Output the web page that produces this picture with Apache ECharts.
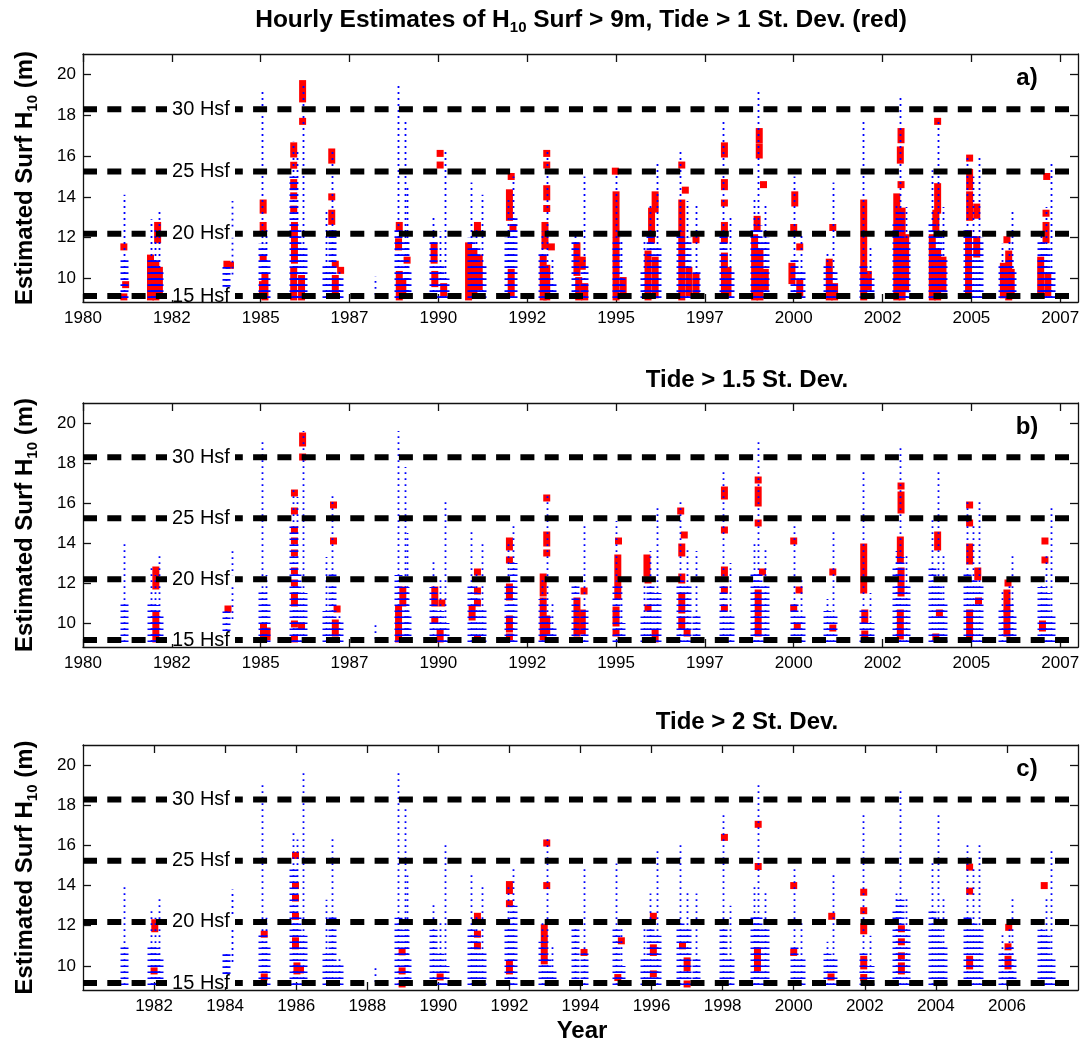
<!DOCTYPE html>
<html><head><meta charset="utf-8">
<script src="https://cdn.jsdelivr.net/npm/echarts@6/dist/echarts.min.js"></script>
<style>html,body{margin:0;padding:0;background:#fff}#c{width:1085px;height:1040px}</style>
</head><body><div id="c"></div>
<script>
// ---------- data ----------
const yearMin = 1980, yearMax = 2008;
const xTicksAB = [1980, 1982.5, 1985, 1987.5, 1990, 1992.5, 1995, 1997.5, 2000, 2002.5, 2005, 2007.5];
const xTicksC = [1982, 1984, 1986, 1988, 1990, 1992, 1994, 1996, 1998, 2000, 2002, 2004, 2006];
const yTicks = [10, 12, 14, 16, 18, 20];
const hsfLevels = [9.144, 12.192, 15.24, 18.288];
const hsfNames = ['15 Hsf', '20 Hsf', '25 Hsf', '30 Hsf'];
const panelLetters = ['a)', 'b)', 'c)'];
const panelTitles = ['', 'Tide > 1.5 St. Dev.', 'Tide > 2 St. Dev.'];

// blue hourly estimates: [year, lowest, highest, top of dense part]
const blueCols = [
  [1981.14, 9.05, 14.1, 11.0],
  [1981.90, 9.05, 12.9, 11.0], [1982.02, 9.05, 12.4, 10.9], [1982.13, 9.05, 13.4, 10.4],
  [1984.02, 9.6, 10.6, 10.6], [1984.20, 10.2, 13.8, 10.2],
  [1985.05, 9.05, 19.2, 11.7], [1985.15, 9.05, 12.4, 11.0],
  [1985.92, 9.05, 16.7, 15.0], [1986.02, 9.05, 16.3, 12.5], [1986.18, 9.05, 19.6, 11.5],
  [1986.85, 9.05, 13.3, 10.6], [1987.0, 9.05, 16.4, 12.5], [1987.2, 9.05, 10.5, 10.2],
  [1988.23, 9.2, 10.1, 9.2],
  [1988.87, 9.05, 19.6, 12.4], [1989.05, 9.05, 17.8, 11.8], [1989.12, 9.05, 14.5, 10.5],
  [1989.85, 9.05, 13.1, 11.8], [1990.05, 9.05, 12.3, 10.6], [1990.2, 9.05, 16.2, 10.0],
  [1990.93, 9.05, 14.7, 12.0], [1991.05, 9.05, 12.5, 11.5], [1991.22, 9.05, 14.1, 10.7],
  [1991.95, 9.05, 14.0, 12.0], [1992.1, 9.05, 15.0, 13.0],
  [1992.92, 9.05, 12.3, 11.2], [1993.05, 9.05, 16.4, 10.5], [1993.2, 9.05, 11.0, 9.9],
  [1993.85, 9.05, 12.3, 11.9], [1994.1, 9.05, 15.0, 10.8],
  [1995.0, 9.05, 15.1, 12.0], [1995.15, 9.05, 11.9, 10.0],
  [1995.8, 9.05, 11.9, 10.5], [1995.95, 9.05, 13.6, 12.3], [1996.15, 9.05, 15.8, 11.5],
  [1996.8, 9.05, 16.2, 12.3], [1997.0, 9.05, 13.8, 12.0], [1997.25, 9.05, 13.6, 10.5],
  [1998.0, 9.05, 17.7, 12.3], [1998.2, 9.05, 13.0, 10.5],
  [1998.87, 9.05, 14.0, 12.5], [1999.0, 9.05, 19.2, 12.6], [1999.2, 9.05, 13.7, 12.0],
  [2000.0, 9.05, 15.0, 11.0], [2000.2, 9.05, 12.2, 10.5],
  [2000.95, 9.05, 11.2, 10.6], [2001.1, 9.05, 14.7, 10.5],
  [2001.95, 9.05, 17.7, 10.8], [2002.15, 9.05, 11.5, 10.0],
  [2002.88, 9.05, 13.6, 12.8], [2003.0, 9.05, 18.9, 13.3], [2003.15, 9.05, 13.5, 12.0],
  [2003.9, 9.05, 15.3, 12.8], [2004.05, 9.05, 17.7, 12.3], [2004.2, 9.05, 13.5, 11.0],
  [2004.88, 9.05, 16.1, 12.5], [2005.05, 9.05, 15.0, 12.2], [2005.22, 9.05, 16.1, 12.0],
  [2005.87, 9.05, 11.7, 10.8], [2006.05, 9.05, 12.0, 11.0], [2006.15, 9.05, 13.4, 10.5],
  [2006.95, 9.05, 12.3, 11.8], [2007.1, 9.05, 13.5, 11.5], [2007.25, 9.05, 15.8, 10.5]
];

// red estimates (tide above threshold): [year, low, high]
const redA = [
  [1981.15,11.55,11.55],[1981.2,9.7,9.7],[1981.15,9.1,9.1],
  [1982.1,11.9,12.6],[1981.9,9.1,11.0],[1982.05,9.1,10.7],[1982.15,9.4,10.4],
  [1984.05,10.7,10.7],[1984.15,10.65,10.65],
  [1985.07,13.35,13.7],[1985.07,12.3,12.6],[1985.07,11.0,11.0],[1985.12,9.1,10.1],[1985.05,9.2,9.7],
  [1986.18,18.8,19.55],[1986.18,17.7,17.7],[1985.93,16.1,16.5],[1985.93,15.55,15.55],[1985.93,14.5,14.7],[1985.93,14.05,14.05],[1985.93,13.4,13.4],[1985.95,10.9,12.6],[1985.93,9.1,10.4],[1986.15,9.1,10.0],
  [1987.0,15.8,16.2],[1987.0,14.0,14.0],[1987.0,12.8,13.2],[1987.25,10.4,10.4],[1987.1,10.7,10.7],[1987.1,9.3,10.0],
  [1988.9,12.45,12.6],[1988.88,11.55,11.8],[1989.12,10.9,10.9],[1988.9,9.1,10.2],[1989.0,9.3,9.8],
  [1990.05,16.13,16.13],[1990.05,15.56,15.56],[1989.88,10.9,11.6],[1989.9,9.75,10.2],[1990.15,9.3,9.6],
  [1991.1,12.4,12.6],[1990.85,9.1,11.6],[1991.0,9.3,11.3],[1991.15,9.6,11.0],
  [1992.05,15.0,15.0],[1992.0,13.0,14.2],[1992.1,12.5,12.5],[1992.05,9.3,10.3],
  [1993.05,16.13,16.13],[1993.05,15.56,15.56],[1993.05,14.0,14.4],[1993.05,13.43,13.43],[1993.0,11.6,12.6],[1992.95,9.1,11.0],[1993.05,9.1,10.5],[1993.18,11.55,11.55],
  [1993.9,10.3,11.6],[1994.05,10.6,10.9],[1993.95,9.1,9.9],[1994.12,9.1,9.6],
  [1994.98,15.26,15.26],[1995.0,9.1,14.1],[1995.2,9.3,9.9],
  [1996.1,13.4,14.1],[1996.0,11.9,13.3],[1995.9,9.1,11.2],[1996.1,9.2,10.9],
  [1996.85,15.56,15.56],[1996.95,14.33,14.33],[1996.85,9.1,13.7],[1997.05,9.3,10.4],[1997.25,9.3,10.1],[1997.25,11.9,11.9],
  [1998.05,16.1,16.5],[1998.05,14.5,14.7],[1998.05,13.7,13.7],[1998.05,11.9,12.6],[1998.05,9.3,11.1],[1998.15,9.3,10.4],
  [1999.03,16.8,17.2],[1999.03,16.05,16.45],[1999.15,14.6,14.6],[1998.97,12.5,12.9],[1998.9,9.1,12.0],[1999.05,9.1,11.3],[1999.2,9.6,10.3],
  [2000.03,13.7,14.1],[2000.0,12.5,12.5],[2000.17,11.55,11.55],[1999.95,9.9,10.6],[2000.17,9.3,9.8],
  [2001.1,12.5,12.5],[2001.0,9.1,10.8],[2001.15,9.1,9.6],
  [2001.97,9.1,13.7],[2002.1,9.6,10.2],
  [2003.02,16.8,17.2],[2003.0,15.8,16.3],[2003.02,14.6,14.6],[2002.9,9.1,14.0],[2003.05,9.1,13.3],[2003.15,9.5,12.0],
  [2004.05,17.7,17.7],[2004.05,13.35,14.5],[2004.0,12.5,13.2],[2003.9,9.1,12.0],[2004.05,9.1,11.3],[2004.2,9.5,10.9],
  [2004.95,15.9,15.9],[2004.95,14.5,15.2],[2004.95,13.0,14.1],[2005.15,13.1,13.5],[2004.92,9.3,12.2],[2005.15,11.2,11.9],
  [2006.0,11.9,11.9],[2005.9,9.2,10.6],[2006.05,9.1,11.2],[2006.12,9.3,10.3],
  [2007.12,15.0,15.0],[2007.1,13.2,13.2],[2007.1,11.9,12.6],[2006.95,9.3,10.9],[2007.15,9.3,10.1]
];
const redB = [
  [1982.05,11.85,12.65],[1982.05,9.2,10.4],
  [1984.08,10.7,10.7],
  [1985.08,9.2,9.8],[1985.18,9.3,9.6],
  [1986.18,19.0,19.35],[1986.18,18.3,18.3],[1985.95,16.5,16.5],[1985.95,15.6,15.6],[1985.95,14.65,14.65],[1985.95,14.1,14.1],[1985.95,13.5,13.5],[1985.95,12.6,12.6],[1985.95,12.0,12.0],[1985.95,11.0,11.35],[1985.95,9.95,9.95],[1986.15,9.85,9.85],[1985.95,9.2,9.2],
  [1987.05,15.9,15.9],[1987.05,14.1,14.1],[1987.15,10.7,10.7],[1987.1,9.5,10.0],
  [1989.0,11.0,11.65],[1988.88,9.2,10.7],
  [1989.9,11.0,11.65],[1990.1,11.0,11.0],[1989.9,10.15,10.15],[1990.05,9.2,9.5],
  [1991.1,12.55,12.55],[1991.1,11.6,11.6],[1991.1,11.0,11.0],[1990.95,10.3,10.7],[1991.1,9.2,9.2],
  [1992.0,13.8,14.1],[1992.0,13.15,13.15],[1992.0,11.3,11.8],[1992.0,9.7,10.2],[1992.0,9.3,9.3],
  [1993.05,16.25,16.25],[1993.05,14.0,14.4],[1993.05,13.5,13.5],[1992.95,11.5,12.3],[1992.95,9.3,11.1],[1993.05,9.6,10.2],
  [1993.9,9.5,11.1],[1994.05,9.6,10.5],[1994.1,11.6,11.6],
  [1995.07,14.1,14.1],[1995.05,11.35,13.25],[1995.0,10.0,10.65],[1995.0,9.5,9.5],
  [1995.87,12.5,13.25],[1995.9,12.15,12.15],[1995.9,10.75,10.75],[1996.1,9.2,9.5],
  [1996.82,15.6,15.6],[1996.92,14.4,14.4],[1996.85,13.5,13.8],[1996.85,12.15,12.3],[1996.85,10.65,11.35],[1996.85,9.85,10.15],[1997.0,9.5,9.5],
  [1998.05,16.35,16.65],[1998.05,14.65,14.65],[1998.05,12.5,12.65],[1998.05,11.65,11.65],[1998.05,10.75,10.75],
  [1999.0,17.15,17.15],[1999.0,16.0,16.65],[1999.0,15.0,15.0],[1999.12,12.55,12.55],[1999.0,10.5,11.5],[1999.0,9.5,10.1],
  [2000.0,14.1,14.1],[2000.15,11.65,11.65],[2000.0,10.75,10.75],[2000.1,9.85,9.85],
  [2001.1,12.55,12.55],[2001.1,9.75,9.75],
  [2001.97,11.65,13.8],[2002.0,10.15,10.5],[2002.0,9.45,9.45],
  [2003.02,16.85,16.85],[2003.02,15.65,16.4],[2003.0,13.15,14.15],[2003.02,11.5,12.6],[2003.0,9.35,10.5],
  [2004.05,13.8,14.4],[2004.1,10.5,10.5],[2004.0,9.3,9.3],
  [2004.95,15.9,15.9],[2004.95,15.0,15.0],[2004.95,13.1,13.8],[2005.18,12.3,12.6],[2005.2,11.1,11.1],[2004.95,9.3,10.5],
  [2006.03,12.0,12.0],[2006.0,10.7,11.5],[2006.0,9.5,10.5],
  [2007.07,14.1,14.1],[2007.07,13.15,13.15],[2007.0,9.75,9.95]
];
const redC = [
  [1982.02,11.85,12.15],[1982.0,9.75,9.75],
  [1985.1,11.58,11.58],[1985.1,9.45,9.45],
  [1985.98,15.5,15.5],[1985.98,14.0,14.0],[1985.98,13.38,13.38],[1985.98,12.47,12.47],[1985.98,11.0,11.25],[1986.02,9.75,10.0],[1986.12,9.8,9.8],
  [1988.98,10.7,10.7],[1988.98,9.75,9.75],[1988.98,9.1,9.1],
  [1990.05,9.45,9.45],
  [1991.1,12.47,12.47],[1991.1,11.58,11.58],[1991.1,11.0,11.0],
  [1992.0,13.75,14.05],[1992.0,13.1,13.1],[1992.0,9.75,10.08],
  [1993.05,16.12,16.12],[1993.05,14.0,14.0],[1992.98,10.25,11.9],
  [1994.1,10.67,10.67],
  [1995.15,11.25,11.25],[1995.05,9.42,9.42],
  [1996.05,12.47,12.47],[1996.05,10.67,10.9],[1996.05,9.6,9.6],
  [1996.87,11.0,11.0],[1997.0,9.9,10.25],[1997.0,9.1,9.1],
  [1998.05,16.4,16.4],
  [1999.0,17.05,17.05],[1999.0,14.95,14.95],[1998.98,9.9,10.75],
  [2000.0,14.0,14.0],[2000.0,10.67,10.67],
  [2001.07,12.47,12.47],[2001.05,9.45,9.45],
  [2001.97,13.67,13.67],[2001.97,12.75,12.75],[2001.97,11.75,11.95],[2001.97,10.0,10.33],[2001.97,9.42,9.42],
  [2003.03,11.85,11.85],[2003.03,11.2,11.2],[2003.03,10.5,10.5],[2003.03,9.75,10.0],
  [2004.95,14.92,14.92],[2004.95,13.72,13.72],[2004.95,10.0,10.33],
  [2006.05,11.92,11.92],[2006.03,10.95,10.95],[2006.03,10.0,10.33],
  [2007.05,14.0,14.0]
];
const redSets = [redA, redB, redC];

// ---------- layout ----------
const FONT = 'Liberation Sans, Arial, Helvetica, sans-serif';
const panels = [
  {top: 54, height: 248, ymin: 8.85, ymax: 21, xticks: xTicksAB},
  {top: 403, height: 244, ymin: 8.8, ymax: 21, xticks: xTicksAB},
  {top: 745, height: 245, ymin: 8.8, ymax: 21, xticks: xTicksC}
];
const LEFT = 83, RIGHT = 7;
const axisLine = {show: true, onZero: false, lineStyle: {color: '#111', width: 1.3}};

const grid = [], xAxis = [], yAxis = [], series = [], graphic = [];
panels.forEach((p, i) => {
  grid.push({left: LEFT, right: RIGHT, top: p.top, height: p.height, containLabel: false});
  const tickStyle = {show: true, inside: true, length: 8, lineStyle: {color: '#111', width: 1.3}};
  xAxis.push({
    type: 'value', gridIndex: i, min: yearMin, max: yearMax, position: 'bottom',
    axisLine, splitLine: {show: false},
    axisTick: Object.assign({customValues: p.xticks}, tickStyle),
    axisLabel: {show: true, customValues: p.xticks, formatter: v => String(Math.floor(v + 1e-6)),
      fontSize: 17, fontFamily: FONT, color: '#000', margin: 8}
  });
  xAxis.push({
    type: 'value', gridIndex: i, min: yearMin, max: yearMax, position: 'top',
    axisLine, splitLine: {show: false},
    axisTick: Object.assign({customValues: p.xticks}, tickStyle),
    axisLabel: {show: false}
  });
  yAxis.push({
    type: 'value', gridIndex: i, min: p.ymin, max: p.ymax, position: 'left',
    axisLine, splitLine: {show: false},
    axisTick: Object.assign({customValues: yTicks}, tickStyle),
    axisLabel: {show: true, customValues: yTicks, fontSize: 17, fontFamily: FONT, color: '#000', margin: 7}
  });
  yAxis.push({
    type: 'value', gridIndex: i, min: p.ymin, max: p.ymax, position: 'right',
    axisLine, splitLine: {show: false},
    axisTick: Object.assign({customValues: yTicks}, tickStyle),
    axisLabel: {show: false}
  });

  // red points
  series.push({
    type: 'custom', xAxisIndex: 2 * i, yAxisIndex: 2 * i, z: 2, clip: true,
    encode: {x: 0, y: [1, 2]},
    data: redSets[i],
    renderItem: (params, api) => {
      const a = api.coord([api.value(0), api.value(1)]);
      const b = api.coord([api.value(0), api.value(2)]);
      return {type: 'rect', shape: {x: a[0] - 3.5, y: b[1] - 3.5, width: 7, height: a[1] - b[1] + 7},
        style: {fill: '#ff0000'}};
    }
  });
  // blue hourly estimates
  series.push({
    type: 'custom', xAxisIndex: 2 * i, yAxisIndex: 2 * i, z: 3, clip: true,
    encode: {x: 0, y: [1, 2, 3]},
    data: blueCols,
    renderItem: (params, api) => {
      const lo = api.coord([api.value(0), api.value(1)]);
      const hi = api.coord([api.value(0), api.value(2)]);
      const dn = api.coord([api.value(0), api.value(3)]);
      const x = Math.round(lo[0]) + 0.5;
      const children = [
        {type: 'line', shape: {x1: x, y1: lo[1], x2: x, y2: hi[1]},
          style: {stroke: '#0000ff', lineWidth: 1.8, lineDash: [1.8, 4.2]}}
      ];
      if (api.value(3) > api.value(1)) {
        children.push({type: 'line', shape: {x1: x, y1: lo[1], x2: x, y2: dn[1]},
          style: {stroke: '#0000ff', lineWidth: 8, lineDash: [1.6, 4.4]}});
      }
      return {type: 'group', children};
    }
  });
  // Hsf reference lines
  series.push({
    type: 'custom', xAxisIndex: 2 * i, yAxisIndex: 2 * i, z: 4, clip: false,
    encode: {x: 0, y: 1},
    data: hsfLevels.map((v, k) => [yearMin, v, k]),
    renderItem: (params, api) => {
      const cs = params.coordSys;
      const y = api.coord([yearMin, api.value(1)])[1];
      const k = api.value(2);
      const tx = cs.x + 118;
      return {type: 'group', children: [
        {type: 'line', shape: {x1: cs.x, y1: y, x2: cs.x + cs.width, y2: y},
          style: {stroke: '#000', lineWidth: 6, lineDash: [14, 10.3]}},
        {type: 'rect', shape: {x: tx - 34, y: y - 4, width: 68, height: 8}, style: {fill: '#fff'}},
        {type: 'text', x: tx, y: y, style: {text: hsfNames[k], align: 'center', verticalAlign: 'middle',
          fontSize: 20, fontFamily: FONT, fill: '#000'}}
      ]};
    }
  });

  // panel letter
  graphic.push({type: 'text', x: 1027, y: p.top + 24, z: 10,
    style: {text: panelLetters[i], align: 'center', verticalAlign: 'middle',
      font: 'bold 24px ' + FONT, fill: '#000'}});
  // y axis name
  graphic.push({type: 'text', x: 25, y: p.top + p.height / 2, rotation: Math.PI / 2, z: 10,
    style: {text: '{b|Estimated Surf H}{s|10}{b| (m)}', align: 'center', verticalAlign: 'middle',
      rich: {
        b: {fontSize: 24, fontWeight: 'bold', fontFamily: FONT, fill: '#000', lineHeight: 30},
        s: {fontSize: 15, fontWeight: 'bold', fontFamily: FONT, fill: '#000', verticalAlign: 'bottom'}
      }}});
  if (panelTitles[i]) {
    graphic.push({type: 'text', x: 747, y: p.top - 23, z: 10,
      style: {text: panelTitles[i], align: 'center', verticalAlign: 'middle',
        font: 'bold 24px ' + FONT, fill: '#000'}});
  }
});

graphic.push({type: 'text', x: 581, y: 20, z: 10,
  style: {text: '{b|Hourly Estimates of H}{s|10}{b| Surf > 9m, Tide > 1 St. Dev. (red)}',
    align: 'center', verticalAlign: 'middle',
    rich: {
      b: {fontSize: 24.5, fontWeight: 'bold', fontFamily: FONT, fill: '#000', lineHeight: 30},
      s: {fontSize: 15, fontWeight: 'bold', fontFamily: FONT, fill: '#000', verticalAlign: 'bottom'}
    }}});
graphic.push({type: 'text', x: 582, y: 1031, z: 10,
  style: {text: 'Year', align: 'center', verticalAlign: 'middle', font: 'bold 24px ' + FONT, fill: '#000'}});

const chart = echarts.init(document.getElementById('c'), null, {renderer: 'canvas'});
chart.setOption({
  animation: false,
  backgroundColor: '#fff',
  grid, xAxis, yAxis, series, graphic
});
</script>
</body></html>
